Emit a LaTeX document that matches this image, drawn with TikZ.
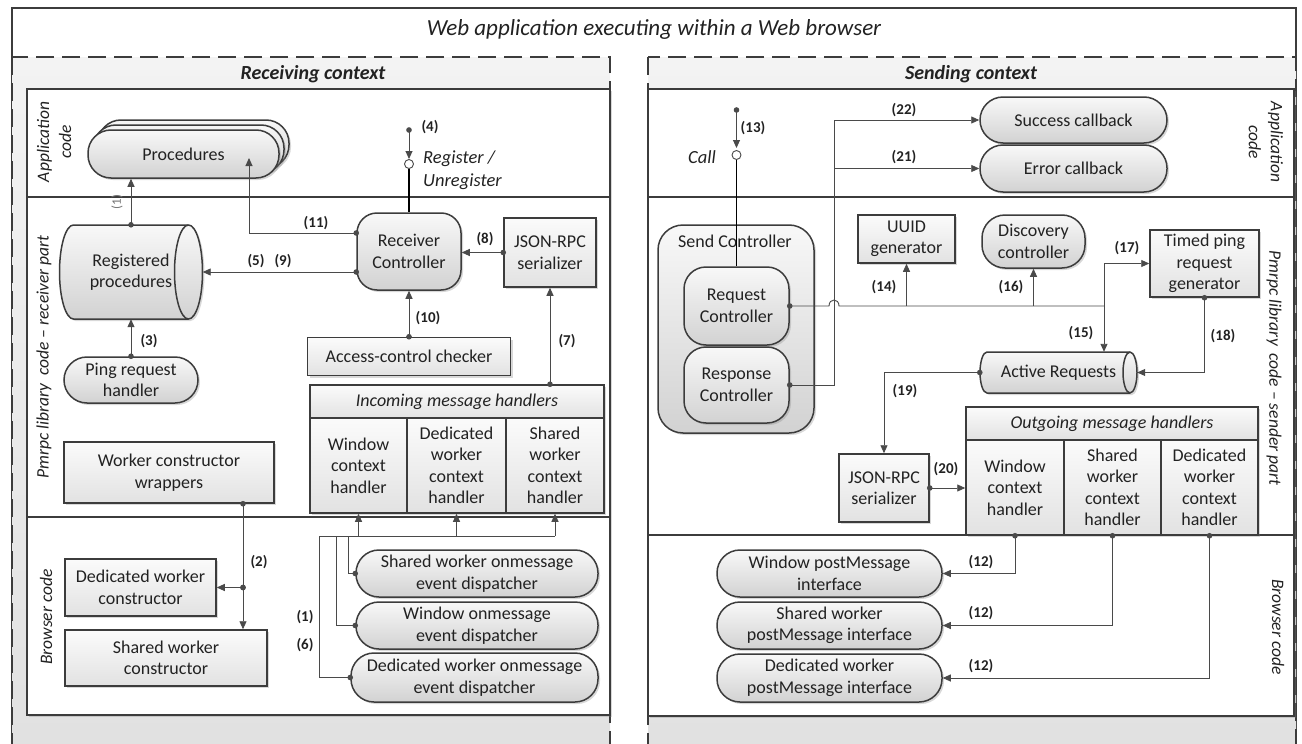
\documentclass[tikz,border=0pt]{standalone}
\usepackage{fontspec}
\setmainfont{Carlito}
\usetikzlibrary{arrows.meta,shadows}

\definecolor{edgegray}{HTML}{3C3C3C}
\definecolor{wiregray}{HTML}{4A4A4A}
\definecolor{inkgray}{HTML}{222222}
\definecolor{ctxtop}{HTML}{F3F3F3}
\definecolor{ctxbot}{HTML}{E0E0E0}
\definecolor{pilltop}{HTML}{F8F8F8}
\definecolor{pillbot}{HTML}{D2D2D2}
\definecolor{boxtop}{HTML}{FBFBFB}
\definecolor{boxbot}{HTML}{E2E2E2}

\newcommand{\boxfont}{\fontsize{18}{21.5}\selectfont}
\newcommand{\numfont}{\fontsize{15}{17}\selectfont\bfseries}
\newcommand{\lanefont}{\fontsize{17.5}{22}\selectfont\itshape}
\newcommand{\notefont}{\fontsize{18.5}{23}\selectfont\itshape}

\tikzset{
  softshadow/.style={drop shadow={shadow xshift=2pt,shadow yshift=-2pt,opacity=0.3}},
  shapebase/.style={draw=edgegray,line width=1.5pt,text=inkgray,font=\boxfont,
      align=center,inner sep=1pt,softshadow},
  sz/.style 2 args={minimum width=#1,minimum height=#2},
  rectbox/.style={shapebase,rectangle,top color=boxtop,bottom color=boxbot},
  roundbox/.style={shapebase,rectangle,rounded corners=#1,top color=pilltop,bottom color=pillbot},
  roundbox/.default=20pt,
  pill/.style={roundbox=23pt},
  drumtext/.style={rectangle,text=inkgray,font=\boxfont,align=center,inner sep=1pt},
  drumbody/.style={draw=edgegray,line width=1.5pt,top color=pilltop,bottom color=pillbot,softshadow},
  drumcap/.style={draw=edgegray,line width=1.5pt},
  lanelab/.style={font=\lanefont,text=inkgray,align=center,inner sep=0pt},
  num/.style={font=\numfont,text=inkgray,inner sep=0pt},
  wire/.style={draw=wiregray,line width=0.9pt},
  arr/.style={wire,-{Triangle[length=8pt,width=7pt]}},
  darr/.style={wire,{Circle[length=5.5pt]}-{Triangle[length=8pt,width=7pt]},shorten <=-2.75pt},
  dline/.style={wire,{Circle[length=5.5pt]}-,shorten <=-2.75pt},
  heavy/.style={draw=black,line width=1.8pt},
  lanebox/.style={draw=edgegray,line width=1.8pt},
  ctxborder/.style={draw=edgegray,line width=2pt,dash pattern=on 18pt off 8pt},
  note/.style={font=\notefont,text=inkgray,inner sep=0pt},
}

% horizontal storage drum: left x, top y, right x, bottom y, end radius, half height
\newcommand{\drum}[6]{%
  \path[drumbody] (#1+#5,#2) -- (#3-#5,#2)
      arc[start angle=-90,end angle=90,x radius=#5,y radius=#6]
      -- (#1+#5,#4)
      arc[start angle=90,end angle=270,x radius=#5,y radius=#6] -- cycle;
  \draw[drumcap] (#3-#5,#2) arc[start angle=270,end angle=90,x radius=#5,y radius=#6];
}

\begin{document}
\begin{tikzpicture}[x=1pt,y=-1pt]
\useasboundingbox (0,0) rectangle (1302,744);
\clip (0,0) rectangle (1302,744);

% browser frame
\path[fill=white,draw=edgegray,line width=2pt] (12,8) rectangle (1296,780);
\node[font=\fontsize{23}{26}\selectfont\itshape,text=inkgray] (title) at (654,29)
  {Web application executing within a Web browser};

% the two execution contexts
\path[top color=ctxtop,bottom color=ctxbot] (12,57) rectangle (610,780);
\path[top color=ctxtop,bottom color=ctxbot] (648,57) rectangle (1296,780);
\draw[ctxborder] (12,57) rectangle (610,780);
\draw[ctxborder] (648,57) rectangle (1296,780);
\node[font=\fontsize{20}{22}\selectfont\bfseries\itshape,text=inkgray] (hdrL) at (313,74) {Receiving context};
\node[font=\fontsize{20}{22}\selectfont\bfseries\itshape,text=inkgray] (hdrR) at (971,74) {Sending context};

% swim lanes
\path[fill=white,lanebox,softshadow] (27,89) rectangle (610,715);
\draw[lanebox] (27,197) -- (610,197) (27,517) -- (610,517);
\path[fill=white,lanebox,softshadow] (648,89) rectangle (1294,716);
\draw[lanebox] (648,197) -- (1294,197) (648,535) -- (1294,535);

\node[lanelab,rotate=90] (laneA) at (54,142) {Application\\code};
\node[lanelab,rotate=90] (laneB) at (44,357) {Pmrpc library\ \ code -- receiver part};
\node[lanelab,rotate=90] (laneC) at (46,617) {Browser code};
\node[lanelab,rotate=-90] (laneD) at (1266,142) {Application\\code};
\node[lanelab,rotate=-90] (laneE) at (1274,368) {Pmrpc library\ \ code -- sender part};
\node[lanelab,rotate=-90] (laneF) at (1278,627) {Browser code};

% ---------- receiving side ----------
\node[pill,sz={191}{48}] (procC) at (193.5,144) {};
\node[pill,sz={191}{48}] (procB) at (188.5,149) {};
\node[pill,sz={191}{48}] (proc) at (183.5,154) {Procedures};
\drum{59.5}{225}{202.5}{319}{14}{47}
\node[drumtext,sz={143}{94}] (regp) at (131,272) {Registered\\procedures};
\node[roundbox=20pt,sz={104}{77}] (rc) at (409,251.5) {Receiver\\Controller};
\node[rectbox,sz={92}{69}] (json1) at (550,252.5) {JSON-RPC\\serializer};
\node[rectbox,sz={203}{38}] (acc) at (409,356.5) {Access-control checker};
\node[pill,sz={134}{46}] (ping) at (131,380) {Ping request\\handler};
\node[rectbox,sz={294}{33},font=\boxfont\itshape] (inch) at (457,401.5) {Incoming message handlers};
\node[rectbox,sz={97}{95}] (inc1) at (358.5,465.5) {Window\\context\\handler};
\node[rectbox,sz={99}{95}] (inc2) at (456.5,465.5) {Dedicated\\worker\\context\\handler};
\node[rectbox,sz={98}{95}] (inc3) at (555,465.5) {Shared\\worker\\context\\handler};
\node[rectbox,sz={210}{61}] (wcw) at (169,472.5) {Worker constructor\\wrappers};
\node[rectbox,sz={151}{57}] (dwc) at (140.5,587.5) {Dedicated worker\\constructor};
\node[rectbox,sz={202}{56}] (swc) at (166,658) {Shared worker\\constructor};
\node[pill,sz={242}{47}] (dispS) at (477,573.5) {Shared worker onmessage\\event dispatcher};
\node[pill,sz={242}{47}] (dispW) at (477,625.5) {Window onmessage\\event dispatcher};
\node[pill,sz={247}{49}] (dispD) at (474.5,677.5) {Dedicated worker onmessage\\event dispatcher};

% (4) register / unregister
\coordinate (src4) at (409,130);
\coordinate (tip4) at (409,159);
\coordinate (lol4) at (409,164);
\coordinate (lol4b) at (409,168.5);
\draw[darr] (src4) -- (tip4);
\draw[wire,fill=white] (lol4) circle[radius=4.5];
\draw[heavy] (lol4b) -- (rc.north);
\node[num] (n4) at (430,127) {(4)};
\node[note,anchor=west,align=left] (regl) at (423,170) {Register /\\Unregister};

% (1) lookup of the registered procedure
\draw[darr] (regp.north) -- (regp.north |- proc.south);
\node[font=\fontsize{13}{14}\selectfont,text=black!55,rotate=90,inner sep=0pt] (n1a) at (117,202) {(1)};
% (11) invocation
\draw[darr] ([yshift=18.5pt]rc.west) -| ([xshift=65.5pt,yshift=-4pt]proc.center);
\node[num] (n11) at (316,223) {(11)};
% (5) (9)
\draw[darr] ([yshift=-20.5pt]rc.west) -- (regp.east);
\node[num] (n5) at (256,261) {(5)};
\node[num] (n9) at (283,261) {(9)};
% (8)
\draw[darr] (json1.west) -- (rc.east |- json1.west);
\node[num] (n8) at (485,239) {(8)};
% (10)
\draw[darr] (acc.north) -- (rc.south);
\node[num] (n10) at (428,318) {(10)};
% (7)
\draw[darr] (inch.north -| json1.south) -- (json1.south);
\node[num] (n7) at (567,341) {(7)};
% (3)
\draw[darr] (ping.north) -- (regp.south);
\node[num] (n3) at (149,341) {(3)};
% (2) worker construction
\coordinate (j2) at (243,587.5);
\draw[darr] (wcw.south -| j2) -- (j2 |- swc.north);
\draw[darr] (j2) -- (dwc.east |- j2);
\fill[wiregray] (j2) circle[radius=2.75];
\node[num] (n2) at (259,562) {(2)};
% (1) (6) message dispatch bus
\coordinate (busL) at (319,536);
\coordinate (busW) at (336,536);
\coordinate (busS) at (348,536);
\coordinate (busR) at (555,536);
\draw[wire] (busL) -- (busR);
\draw[arr] (inc1.south |- busL) -- (inc1.south);
\draw[arr] (inc2.south |- busL) -- (inc2.south);
\draw[arr] (inc3.south |- busL) -- (inc3.south);
\draw[dline] (dispD.west) -| (busL);
\draw[dline] (dispW.west) -| (busW);
\draw[dline] (dispS.west) -| (busS);
\node[num] (n1b) at (305,617) {(1)};
\node[num] (n6) at (305,645) {(6)};

% ---------- sending side ----------
\node[pill,sz={187}{46}] (succ) at (1073.5,120) {Success callback};
\node[pill,sz={187}{47}] (err) at (1073.5,168.5) {Error callback};
\node[roundbox=25pt,sz={156}{208}] (sendc) at (736,329) {};
\node[font=\boxfont,text=inkgray] (sendlbl) at (735,241) {Send Controller};
\node[roundbox=22pt,sz={105}{78}] (reqc) at (736.5,306) {Request\\Controller};
\node[roundbox=22pt,sz={105}{76}] (resc) at (736.5,385) {Response\\Controller};
\node[rectbox,sz={97}{48}] (uuid) at (906.5,239) {UUID\\generator};
\node[pill,sz={103}{53}] (disc) at (1033.5,241.5) {Discovery\\controller};
\node[rectbox,sz={109}{67}] (timed) at (1204.5,263.5) {Timed ping\\request\\generator};
\drum{980}{352}{1137}{393}{7}{20.5}
\node[drumtext,sz={157}{41}] (act) at (1058.5,372.5) {Active Requests};
\node[rectbox,sz={90}{68}] (json2) at (884,488) {JSON-RPC\\serializer};
\node[rectbox,sz={292}{33},font=\boxfont\itshape] (outh) at (1112,423.5) {Outgoing message handlers};
\node[rectbox,sz={98}{95}] (out1) at (1015,487.5) {Window\\context\\handler};
\node[rectbox,sz={97}{95}] (out2) at (1112.5,487.5) {Shared\\worker\\context\\handler};
\node[rectbox,sz={97}{95}] (out3) at (1209.5,487.5) {Dedicated\\worker\\context\\handler};
\node[pill,sz={225}{47}] (wpm) at (829.5,573.5) {Window postMessage\\interface};
\node[pill,sz={225}{47}] (spm) at (829.5,625.5) {Shared worker\\postMessage interface};
\node[pill,sz={225}{48}] (dpm) at (829.5,678) {Dedicated worker\\postMessage interface};

% (13) call
\coordinate (src13) at (736.5,110);
\coordinate (tip13) at (736.5,148);
\coordinate (lol13) at (736.5,155);
\coordinate (lol13b) at (736.5,159.5);
\draw[darr] (src13) -- (tip13);
\draw[wire,fill=white] (lol13) circle[radius=4.5];
\draw[heavy] (lol13b) -- (reqc.north);
\node[num] (n13) at (753,128) {(13)};
\node[note] (calll) at (702,157) {Call};

% (22) (21) callbacks
\coordinate (bend22) at (834,385);
\draw[darr] (resc.east) -- (bend22) |- (succ.west);
\draw[arr] (bend22 |- err.west) -- (err.west);
\node[num] (n22) at (904,110) {(22)};
\node[num] (n21) at (904,157) {(21)};

% request path with a hop over the callback line
\coordinate (hopA) at (829,306);
\coordinate (hopB) at (839,306);
\coordinate (jreq) at (1104,306);
\draw[dline] (reqc.east) -- (hopA) .. controls +(0,-8) and +(0,-8) .. (hopB) -- (jreq);
\draw[arr] (uuid.south |- jreq) -- (uuid.south);
\draw[arr] (disc.south |- jreq) -- (disc.south);
\draw[arr] (jreq) -- (jreq |- act.north);
\draw[arr] (jreq) |- (timed.west);
\node[num] (n14) at (884,287) {(14)};
\node[num] (n16) at (1011,287) {(16)};
\node[num] (n17) at (1127,248) {(17)};
\node[num] (n15) at (1081,333) {(15)};
% (18)
\draw[darr] (timed.south) |- (act.east);
\node[num] (n18) at (1223,336) {(18)};
% (19)
\draw[darr] (act.west) -| (json2.north);
\node[num] (n19) at (905,391) {(19)};
% (20)
\draw[darr] (json2.east) -- (out1.west |- json2.east);
\node[num] (n20) at (946,469) {(20)};
% (12) postMessage
\draw[darr] (out1.south) |- (wpm.east);
\draw[darr] (out2.south) |- (spm.east);
\draw[darr] (out3.south) |- (dpm.east);
\node[num] (n12a) at (981,562) {(12)};
\node[num] (n12b) at (981,613) {(12)};
\node[num] (n12c) at (981,666) {(12)};
\end{tikzpicture}
\end{document}
